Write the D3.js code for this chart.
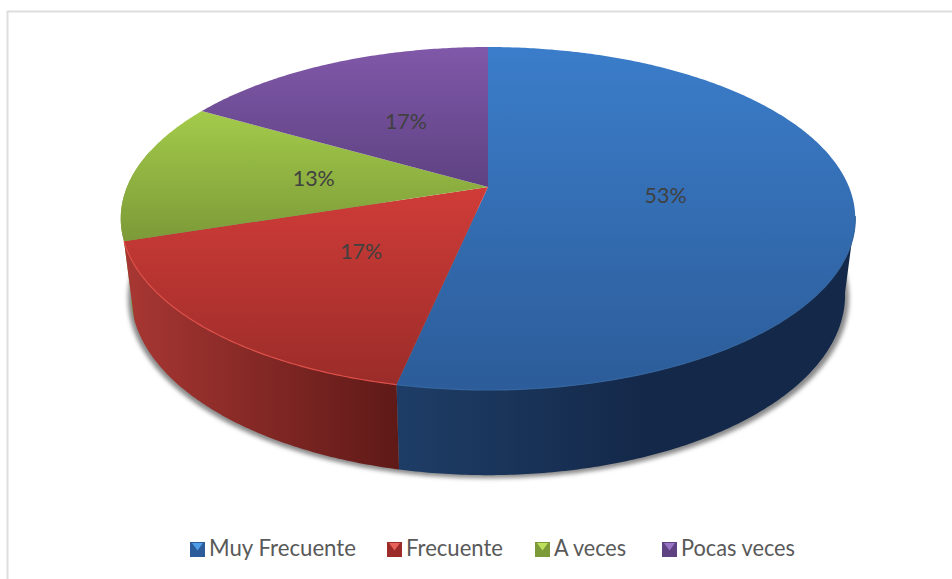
<!DOCTYPE html>
<html><head><meta charset="utf-8">
<style>html,body{margin:0;padding:0;background:#fff;overflow:hidden}svg{display:block}</style>
<script src="https://cdn.jsdelivr.net/npm/d3@7"></script></head>
<body><svg id="c" width="952" height="579"></svg>
<script>
const categories = ["Muy Frecuente", "Frecuente", "A veces", "Pocas veces"];
const counts = [16, 5, 4, 5];
const topLight = ["#3b7dca", "#d03c38", "#a3cb4a", "#8058a9"];
const topDark  = ["#2c5c99", "#9b2c29", "#7c9a38", "#5e4282"];
const wallLeft = ["#1e3d66", "#a83733", "#7f9e3c", "#5e4282"];
const wallRight= ["#14294a", "#5e1917", "#7f9e3c", "#5e4282"];
const rimColors = ["#34659f", "#de4f49", "#a3cb4a", "#8058a9"];
const bevel = ["#4f9de8", "#e8625c", "#bde05c", "#9a74c4"];
const legendX = [190, 387, 535, 662];
const legendTextX = [209, 406, 554, 681];
const legendTextW = [147, 97, 72, 114];

const svg = d3.select("#c");
const defs = svg.append("defs");

// perspective disc: tilt e, slices meet at (cx, cy)
const cx = 488, e = 0.1837;
const topFace = { cy: 187, A: 361, B: 165.7 };
const lowFace = { cy: 262, A: 351, B: 174 };
function project(theta, r, f) {
  const u = r * Math.sin(theta), v = -r * Math.cos(theta), k = 1 - e * v;
  return [cx + f.A * u / k, f.cy + f.B * v / k];
}
const pie = d3.pie().sort(null).startAngle(0).endAngle(2 * Math.PI);
const arcs = pie(counts);
const pct = d3.format(".0%");
const total = d3.sum(counts);
const line = d3.line();
const step = 0.01;
const thetas = (t0, t1) => d3.range(t0, t1, step).concat([t1]);

// frame
svg.append("path").attr("d", "M7.5,579V11.5H952").attr("fill", "none")
  .attr("stroke", "#dedede").attr("stroke-width", 2);

// gradients
arcs.forEach((d, i) => {
  const g = defs.append("linearGradient").attr("id", "top" + i).attr("x1", 0).attr("x2", 0).attr("y1", 0).attr("y2", 1);
  g.append("stop").attr("offset", 0).attr("stop-color", topLight[i]);
  g.append("stop").attr("offset", 1).attr("stop-color", topDark[i]);
});
const wallSpan = [[398, 640], [125, 400], [120, 140], [120, 140]];
arcs.forEach((d, i) => {
  const g = defs.append("linearGradient").attr("id", "wall" + i).attr("gradientUnits", "userSpaceOnUse")
    .attr("x1", wallSpan[i][0]).attr("x2", wallSpan[i][1]).attr("y1", 0).attr("y2", 0);
  g.append("stop").attr("offset", 0).attr("stop-color", wallLeft[i]);
  g.append("stop").attr("offset", 1).attr("stop-color", wallRight[i]);
});
const blur = defs.append("filter").attr("id", "sh").attr("x", "-5%").attr("y", "-5%").attr("width", "110%").attr("height", "110%");
blur.append("feGaussianBlur").attr("stdDeviation", 2.2);
const soft = defs.append("filter").attr("id", "soft").attr("x", "-5%").attr("y", "-5%").attr("width", "110%").attr("height", "110%");
soft.append("feGaussianBlur").attr("stdDeviation", 0.6);

// visible wall range (front of the disc, between the side silhouettes)
const wallStart = Math.PI / 2 + 0.17, wallEnd = 3 * Math.PI / 2 + 0.22;

// cast shadow
const shTh = thetas(wallStart - 0.3, wallEnd + 0.3);
svg.append("path")
  .attr("d", line(shTh.map(t => { const p = project(t, 1, lowFace); return [p[0] + (Math.sin(t) > 0 ? 4 : -3), p[1] + 3]; })) + "Z")
  .attr("fill", "#8a8a8a").attr("filter", "url(#sh)");

// walls
[2, 0, 1].forEach(i => {
  const d = arcs[i];
  const t0 = Math.max(d.startAngle, wallStart), t1 = Math.min(d.endAngle, wallEnd);
  if (t1 <= t0) return;
  const th = thetas(t0, t1);
  const upper = th.map(t => project(t, 1, topFace));
  const lower = th.map(t => project(t, 1, lowFace)).reverse();
  svg.append("path").attr("d", line(upper.concat(lower)) + "Z").attr("fill", `url(#wall${i})`);
});

// top face
arcs.forEach((d, i) => {
  const pts = [[cx, topFace.cy]].concat(thetas(d.startAngle, d.endAngle).map(t => project(t, 1, topFace)));
  svg.append("path").attr("d", line(pts) + "Z").attr("fill", `url(#top${i})`);
});

// light rim along the front edge of the top face
[0, 1].forEach(i => {
  const d = arcs[i];
  const th = thetas(Math.max(d.startAngle, wallStart), Math.min(d.endAngle, wallEnd));
  svg.append("path").attr("d", line(th.map(t => project(t, 1, topFace))))
    .attr("fill", "none").attr("stroke", rimColors[i]).attr("stroke-width", 1.2).attr("filter", "url(#soft)");
});

// data labels
arcs.forEach((d, i) => {
  const p = project((d.startAngle + d.endAngle) / 2, 0.49, topFace);
  svg.append("text").attr("x", p[0]).attr("y", p[1] + 7).attr("text-anchor", "middle")
    .attr("font-family", "Lato").attr("font-size", 21).attr("fill", "#404040")
    .attr("textLength", 42).attr("lengthAdjust", "spacingAndGlyphs")
    .text(pct(counts[i] / total));
});

// legend
categories.forEach((c, i) => {
  const s = 15, x = legendX[i], y = 542;
  const g = svg.append("g");
  g.append("rect").attr("x", x).attr("y", y).attr("width", s).attr("height", s).attr("fill", topDark[i]);
  g.append("path").attr("d", line([[x + 2, y + 1], [x + s - 2, y + 1], [x + s / 2, y + s / 2 + 1]]) + "Z").attr("fill", bevel[i]);
  svg.append("text").attr("x", legendTextX[i]).attr("y", 556)
    .attr("font-family", "Lato").attr("font-size", 23).attr("fill", "#595959")
    .attr("textLength", legendTextW[i]).attr("lengthAdjust", "spacingAndGlyphs").text(c);
});
</script></body></html>
